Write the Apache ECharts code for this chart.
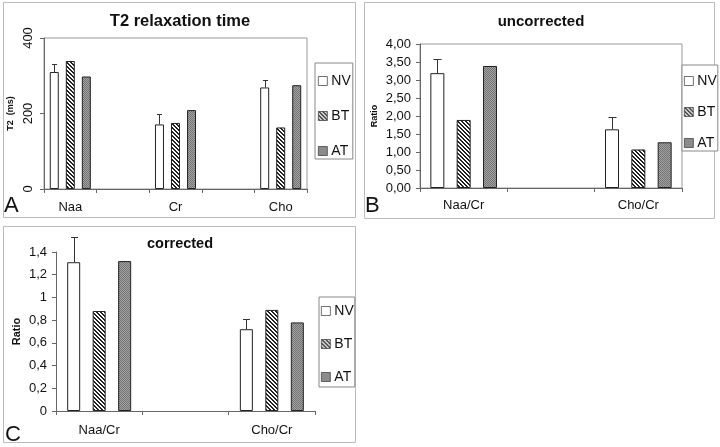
<!DOCTYPE html>
<html><head><meta charset="utf-8">
<script src="https://cdn.jsdelivr.net/npm/echarts/dist/echarts.min.js"></script>
<style>html,body{margin:0;padding:0;background:#fff}#c{width:720px;height:447px}</style>
</head><body><div id="c"></div>
<script>
// ---------- data ----------
const seriesNames = ['NV', 'BT', 'AT'];
// Panel A: T2 relaxation time
const catsA = ['Naa', '', 'Cr', '', 'Cho'];
const nvA = [310, '-', 171, '-', 269];
const btA = [339, '-', 175, '-', 163];
const atA = [298, '-', 209, '-', 275];
const nvErrA = [20, '-', 28, '-', 19];
// Panel B: uncorrected
const catsB = ['Naa/Cr', '', 'Cho/Cr'];
const nvB = [3.19, '-', 1.63];
const btB = [1.89, '-', 1.07];
const atB = [3.39, '-', 1.27];
const nvErrB = [0.40, '-', 0.34];
// Panel C: corrected
const catsC = ['Naa/Cr', '', 'Cho/Cr'];
const nvC = [1.31, '-', 0.72];
const btC = [0.88, '-', 0.89];
const atC = [1.32, '-', 0.78];
const nvErrC = [0.22, '-', 0.09];

// ---------- styles ----------
const FONT = '"Liberation Sans", Arial, sans-serif';
function makePattern(kind) {
  const c = document.createElement('canvas');
  const ctx = c.getContext('2d');
  if (kind === 'hatch') {
    c.width = 4; c.height = 4;
    ctx.fillStyle = '#ffffff'; ctx.fillRect(0, 0, 4, 4);
    ctx.fillStyle = '#222222';
    for (let i = 0; i < 4; i++) { ctx.fillRect(i, i, 1, 1); ctx.fillRect((i + 1) % 4, i, 1, 1); }
  } else {
    c.width = 2; c.height = 2;
    ctx.fillStyle = '#a2a2a2'; ctx.fillRect(0, 0, 2, 2);
    ctx.fillStyle = '#747474'; ctx.fillRect(0, 0, 1, 1); ctx.fillRect(1, 1, 1, 1);
  }
  return { image: c, repeat: 'repeat' };
}
const fills = ['#ffffff', makePattern('hatch'), makePattern('dots')];

const panels = [
  { cats: catsA, vals: [nvA, btA, atA], err: nvErrA, barW: 9, gap: 0.78,
    grid: { left: 44, top: 38, width: 263, height: 151, show: true, borderColor: '#999', borderWidth: 1 },
    y: { min: 0, max: 400, interval: 200, name: 'T2  (ms)', nameGap: 28.5, nameSize: 9, rotate: 90, margin: 9,
         fmt: v => String(v) },
    legend: { left: 315, top: 63, padding: [11, 2, 1, 3], itemGap: 21 }, labelMargin: 12 },
  { cats: catsB, vals: [nvB, btB, atB], err: nvErrB, barW: 14, gap: 0.88,
    grid: { left: 420, top: 44, width: 262, height: 144, show: true, borderColor: '#999', borderWidth: 1 },
    y: { min: 0, max: 4, interval: 0.5, name: 'Ratio', nameGap: 40.5, nameSize: 9, rotate: 0, margin: 9,
         fmt: v => v.toFixed(2).replace('.', ',') },
    legend: { left: 682, top: 65, padding: [9, 1, 1, 2], itemGap: 17 }, labelMargin: 11 },
  { cats: catsC, vals: [nvC, btC, atC], err: nvErrC, barW: 13, gap: 0.96,
    grid: { left: 56, top: 252, width: 259, height: 159, show: false },
    y: { min: 0, max: 1.4, interval: 0.2, name: 'Ratio', nameGap: 33.5, nameSize: 11, rotate: 0, margin: 9,
         fmt: v => String(+v.toFixed(1)).replace('.', ',') },
    legend: { left: 319, top: 297, padding: [7, 1, 3, 2], itemGap: 19 }, labelMargin: 13 }
];

const option = {
  backgroundColor: '#ffffff',
  animation: false,
  textStyle: { fontFamily: FONT },
  grid: [], xAxis: [], yAxis: [], legend: [], series: [],
  graphic: []
};

panels.forEach((p, gi) => {
  option.grid.push(Object.assign({ containLabel: false, outerBoundsMode: 'none' }, p.grid));
  option.xAxis.push({
    type: 'category', gridIndex: gi, data: p.cats,
    axisLine: { lineStyle: { color: '#666', width: 1 } },
    axisTick: { show: true, length: 4, lineStyle: { color: '#666' } },
    axisLabel: { color: '#111', fontSize: 13, fontFamily: FONT, margin: p.labelMargin, interval: 0 },
    splitLine: { show: false }
  });
  option.yAxis.push({
    type: 'value', gridIndex: gi, min: p.y.min, max: p.y.max, interval: p.y.interval,
    name: p.y.name, nameLocation: 'middle', nameRotate: 90, nameGap: p.y.nameGap, nameMoveOverlap: false,
    nameTextStyle: { fontSize: p.y.nameSize, fontWeight: 'bold', color: '#111', fontFamily: FONT },
    axisLine: { show: true, lineStyle: { color: '#666', width: 1 } },
    axisTick: { show: true, length: 4, lineStyle: { color: '#666' } },
    axisLabel: { color: '#111', fontSize: 13, fontFamily: FONT, margin: p.y.margin, rotate: p.y.rotate,
                 formatter: p.y.fmt },
    splitLine: { show: false }
  });
  option.legend.push({
    orient: 'vertical', left: p.legend.left, top: p.legend.top, padding: p.legend.padding,
    itemGap: p.legend.itemGap, itemWidth: 9, itemHeight: 9, icon: 'rect',
    itemStyle: { borderWidth: 0.7, borderColor: '#333' },
    borderColor: '#888', borderWidth: 1, backgroundColor: '#fff',
    textStyle: { fontSize: 14, color: '#111', fontFamily: FONT, padding: [0, 0, 0, -1] },
    data: seriesNames, selectedMode: false
  });
  seriesNames.forEach((nm, si) => {
    option.series.push({
      type: 'bar', name: nm, xAxisIndex: gi, yAxisIndex: gi, data: p.vals[si],
      barWidth: p.barW, barGap: (p.gap * 100) + '%',
      itemStyle: { color: fills[si], borderColor: '#222', borderWidth: 1 },
      emphasis: { disabled: true }
    });
  });
  const errData = [];
  p.vals[0].forEach((v, i) => { if (v !== '-') errData.push([i, v, v + p.err[i]]); });
  const offset = -(p.barW + p.barW * p.gap);
  const capW = Math.round(p.barW * 0.55);
  option.series.push({
    type: 'custom', xAxisIndex: gi, yAxisIndex: gi, data: errData, clip: false, z: 5,
    renderItem: function (params, api) {
      const b = api.coord([api.value(0), api.value(1)]);
      const t = api.coord([api.value(0), api.value(2)]);
      const cx = Math.round(b[0] + offset) + 0.5;
      const ty = Math.round(t[1]) + 0.5;
      return { type: 'group', children: [
        { type: 'line', shape: { x1: cx, y1: b[1], x2: cx, y2: ty }, style: { stroke: '#333', lineWidth: 1 } },
        { type: 'line', shape: { x1: cx - capW / 2, y1: ty, x2: cx + capW / 2, y2: ty }, style: { stroke: '#333', lineWidth: 1 } }
      ] };
    }
  });
});

// panel frames, titles and letters
const frames = [[3.5, 2.5, 352, 215], [364.5, 2.5, 350, 216], [3.5, 226.5, 352, 216]];
frames.forEach(f => option.graphic.push({ type: 'rect', z: -10, silent: true,
  shape: { x: f[0], y: f[1], width: f[2], height: f[3] }, style: { fill: 'none', stroke: '#bbb', lineWidth: 1 } }));
const titles = [['T2 relaxation time', 180, 21, 16.5], ['uncorrected', 541, 22, 15], ['corrected', 180, 244, 14.5]];
titles.forEach(t => option.graphic.push({ type: 'text', silent: true, x: t[1], y: t[2],
  style: { text: t[0], font: 'bold ' + t[3] + 'px ' + FONT, fill: '#111', align: 'center', verticalAlign: 'middle' } }));
const letters = [['A', 4, 206], ['B', 365, 206], ['C', 5, 435]];
letters.forEach(l => option.graphic.push({ type: 'text', silent: true, x: l[1], y: l[2],
  style: { text: l[0], font: '22px ' + FONT, fill: '#111', align: 'left', verticalAlign: 'middle' } }));

const chart = echarts.init(document.getElementById('c'), null, { renderer: 'canvas' });
chart.setOption(option);
</script>
</body></html>
